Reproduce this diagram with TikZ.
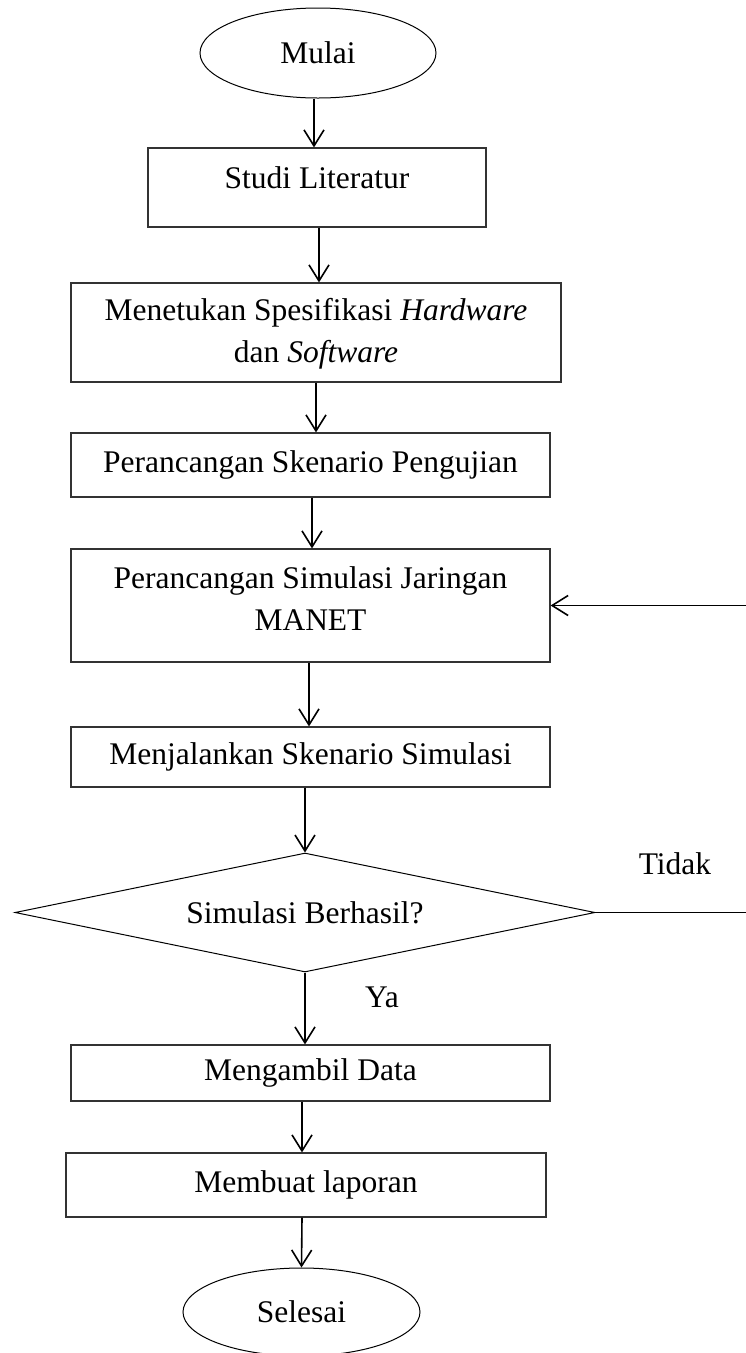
\documentclass[tikz,border=0pt]{standalone}
\usepackage{fontspec}
\setmainfont{Liberation Serif}
\usetikzlibrary{arrows.meta,shapes.geometric}
\begin{document}
\begin{tikzpicture}[x=1pt,y=-1pt,
  every node/.style={font=\fontsize{31.5}{42}\selectfont, inner sep=0pt},
  box/.style={draw=black!80, line width=1.2pt, rectangle, align=center},
  term/.style={draw, line width=1pt, ellipse},
  decision/.style={draw, line width=1pt, diamond, aspect=4.87},
  arr/.style={line width=1.6pt, -{Straight Barb[length=16pt,width=20pt,line width=1.6pt]}},
]
\useasboundingbox (0,0) rectangle (745,1353);
\fill[white] (0,0) rectangle (745,1353);

\node[term, minimum width=236pt, minimum height=90pt] (mulai) at (318,53) {Mulai};
\node[box, minimum width=338pt, minimum height=79pt, text height=21.5pt, text depth=20.5pt] (studi) at (317,187.5) {Studi Literatur};
\node[box, minimum width=490pt, minimum height=99pt, text height=63.5pt, text depth=4.5pt] (men) at (316,332.5) {Menetukan Spesifikasi \textit{Hardware}\\dan \textit{Software}};
\node[box, minimum width=479pt, minimum height=64pt] (sken) at (310.5,465) {Perancangan Skenario Pengujian};
\node[box, minimum width=479pt, minimum height=113pt, text height=63.5pt, text depth=14.5pt] (sim) at (310.5,605.5) {Perancangan Simulasi Jaringan\\MANET};
\node[box, minimum width=479pt, minimum height=60pt] (menj) at (310.5,757) {Menjalankan Skenario Simulasi};
\node[decision, minimum width=580pt, minimum height=119pt] (dec) at (305,912.5) {Simulasi Berhasil?};
\node[box, minimum width=479pt, minimum height=56pt] (ambil) at (310.5,1073) {Mengambil Data};
\node[box, minimum width=480pt, minimum height=64pt] (buat) at (306,1185) {Membuat laporan};
\node[term, minimum width=237pt, minimum height=88pt] (selesai) at (301.5,1312) {Selesai};

\node (tidak) at (675,864) {Tidak};
\node (ya) at (382,997) {Ya};
\coordinate (loop) at (760,912.5);

\draw[arr] ([xshift=-4pt]mulai.south) -- ([xshift=-3pt]studi.north);
\draw[arr] ([xshift=2pt]studi.south) -- ([xshift=3pt]men.north);
\draw[arr] (men.south) -- ([xshift=5.5pt]sken.north);
\draw[arr] ([xshift=1.5pt]sken.south) -- ([xshift=1.5pt]sim.north);
\draw[arr] ([xshift=-1.5pt]sim.south) -- ([xshift=-1.5pt]menj.north);
\draw[arr] ([xshift=-5.5pt]menj.south) -- (dec.north);
\draw[arr] (dec.south) -- ([xshift=-5.5pt]ambil.north);
\draw[arr] ([xshift=-8.5pt]ambil.south) -- ([xshift=-4pt]buat.north);
\draw[arr] ([xshift=-4pt]buat.south) -- (selesai.north);
\draw[arr] (dec.east) -- (loop) |- (sim.east);
\end{tikzpicture}
\end{document}
